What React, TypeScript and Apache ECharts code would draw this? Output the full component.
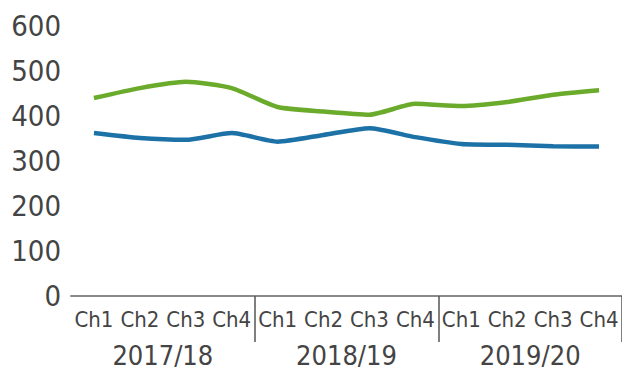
import React, { useEffect, useRef } from "react";
import * as echarts from "echarts";

const quarters = ["Ch1", "Ch2", "Ch3", "Ch4", "Ch1", "Ch2", "Ch3", "Ch4", "Ch1", "Ch2", "Ch3", "Ch4"];
const years = ["2017/18", "2018/19", "2019/20"];
const greenSeries = [440, 462, 476, 462, 420, 410, 403, 427, 422, 431, 447, 457];
const blueSeries = [362, 351, 347, 362, 343, 358, 373, 353, 338, 336, 333, 332];
const yTicks = [0, 100, 200, 300, 400, 500, 600];

const FONT = "'Liberation Sans Narrow', 'DejaVu Sans Condensed', 'Roboto', sans-serif";

export default function App() {
  const ref = useRef<HTMLDivElement>(null);
  useEffect(() => {
    if (!ref.current) return;
    const chart = echarts.init(ref.current, undefined, { renderer: "svg" });
    chart.setOption({
      animation: false,
      grid: { left: 71, right: -2, top: 26, bottom: 78, containLabel: false },
      xAxis: [
        {
          type: "category",
          data: quarters,
          boundaryGap: true,
          position: "bottom",
          axisLine: { show: true, lineStyle: { color: "#8a8a8a", width: 2 } },
          axisTick: {
            show: true,
            interval: (i: number) => i === 4 || i === 8,
            length: 46,
            lineStyle: { color: "#555", width: 1.5 },
          },
          axisLabel: { interval: 0, color: "#444", fontSize: 22, fontFamily: FONT, margin: 12 },
          splitLine: { show: false },
        },
        {
          type: "category",
          data: years,
          position: "bottom",
          axisLine: { show: false },
          axisTick: { show: false },
          axisLabel: { interval: 0, color: "#444", fontSize: 27, fontFamily: FONT, margin: 46 },
          splitLine: { show: false },
        },
      ],
      yAxis: {
        type: "value",
        min: yTicks[0],
        max: yTicks[yTicks.length - 1],
        interval: 100,
        axisLine: { show: false },
        axisTick: { show: false },
        splitLine: { show: false },
        axisLabel: { color: "#444", fontSize: 29, fontFamily: FONT, margin: 10 },
      },
      series: [
        {
          type: "line",
          data: greenSeries,
          xAxisIndex: 0,
          symbol: "none",
          smooth: 0.2,
          lineStyle: { color: "#6aab2c", width: 4.5 },
          itemStyle: { color: "#6aab2c" },
        },
        {
          type: "line",
          data: blueSeries,
          xAxisIndex: 0,
          symbol: "none",
          smooth: 0.2,
          lineStyle: { color: "#1c72a6", width: 4.5 },
          itemStyle: { color: "#1c72a6" },
        },
      ],
    });
    return () => chart.dispose();
  }, []);
  return <div ref={ref} style={{ width: 622, height: 374, position: "absolute", left: 0, top: 0 }} />;
}
